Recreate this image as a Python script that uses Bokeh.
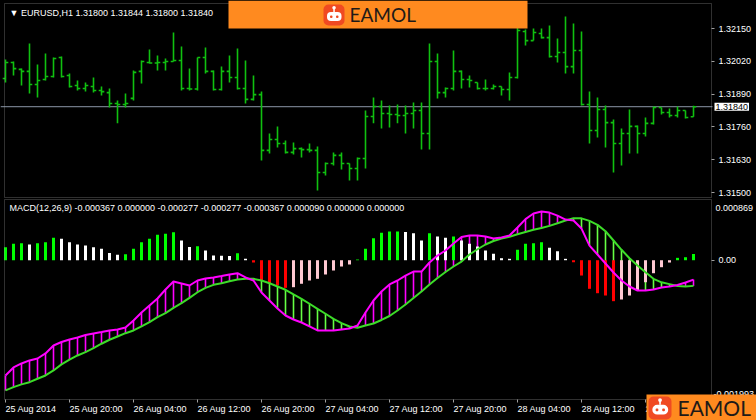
from bokeh.plotting import figure
from bokeh.models import (ColumnDataSource, Range1d, LinearAxis, FixedTicker,
                          PrintfTickFormatter, Label, BoxAnnotation, Span)
from bokeh.layouts import column
from bokeh.embed import file_html
from bokeh.resources import INLINE

# ---------------- data ----------------
time_ticks = [0, 8, 16, 24, 32, 40, 48, 56, 64, 72, 80]
time_labels = ["25 Aug 2014", "25 Aug 20:00", "26 Aug 04:00", "26 Aug 12:00",
               "26 Aug 20:00", "27 Aug 04:00", "27 Aug 12:00", "27 Aug 20:00",
               "28 Aug 04:00", "28 Aug 12:00", "28 Aug 20:00"]
price_ticks = [1.31500, 1.31630, 1.31760, 1.31890, 1.32020, 1.32150]
last_price = 1.31840
macd_top = 0.000869
macd_bottom = -0.001993

opens = [1.31952, 1.32015, 1.31988, 1.31980, 1.31928, 1.31948, 1.31960, 1.32035, 1.31964, 1.31924,
         1.31912, 1.31920, 1.31904, 1.31896, 1.31853, 1.31849, 1.31873, 1.31980, 1.32015, 1.32013,
         1.32015, 1.32019, 1.32023, 1.31912, 1.31910, 1.32035, 1.31980, 1.31908, 1.31980, 1.31956,
         1.31912, 1.31869, 1.31888, 1.31667, 1.31710, 1.31694, 1.31659, 1.31674, 1.31670, 1.31667,
         1.31579, 1.31615, 1.31647, 1.31615, 1.31595, 1.31635, 1.31801, 1.31841, 1.31813, 1.31809,
         1.31805, 1.31813, 1.31825, 1.31734, 1.32019, 1.31896, 1.31912, 1.31980, 1.31948, 1.31936,
         1.31912, 1.31912, 1.31920, 1.31908, 1.31956, 1.32138, 1.32102, 1.32130, 1.32114, 1.32039,
         1.32055, 1.31999, 1.32063, 1.31849, 1.31746, 1.31829, 1.31777, 1.31694, 1.31734, 1.31762,
         1.31734, 1.31774, 1.31837, 1.31817, 1.31805, 1.31825, 1.31800]
highs = [1.32027, 1.32019, 1.31991, 1.32091, 1.32007, 1.32051, 1.32035, 1.32039, 1.31972, 1.31944,
         1.31936, 1.31956, 1.31920, 1.31912, 1.31865, 1.31892, 1.31984, 1.32023, 1.32067, 1.32043,
         1.32031, 1.32134, 1.32079, 1.31991, 1.32035, 1.32075, 1.31984, 1.31999, 1.32043, 1.32071,
         1.32023, 1.31964, 1.31900, 1.31734, 1.31762, 1.31706, 1.31698, 1.31678, 1.31694, 1.31682,
         1.31619, 1.31659, 1.31659, 1.31615, 1.31639, 1.31825, 1.31877, 1.31865, 1.31845, 1.31849,
         1.31845, 1.31857, 1.31857, 1.32091, 1.32051, 1.31916, 1.32063, 1.31984, 1.31964, 1.31936,
         1.31948, 1.31928, 1.31920, 1.31976, 1.32154, 1.32146, 1.32150, 1.32150, 1.32162, 1.32110,
         1.32198, 1.32170, 1.32138, 1.31900, 1.31877, 1.31845, 1.31789, 1.31754, 1.31829, 1.31766,
         1.31797, 1.31841, 1.31837, 1.31833, 1.31841, 1.31825, 1.31844]
lows = [1.31936, 1.31964, 1.31924, 1.31892, 1.31877, 1.31944, 1.31956, 1.31956, 1.31916, 1.31904,
        1.31900, 1.31896, 1.31884, 1.31837, 1.31774, 1.31837, 1.31865, 1.31932, 1.32011, 1.31984,
        1.31984, 1.32019, 1.31904, 1.31904, 1.31904, 1.31972, 1.31904, 1.31904, 1.31936, 1.31908,
        1.31853, 1.31865, 1.31627, 1.31655, 1.31678, 1.31655, 1.31651, 1.31639, 1.31659, 1.31508,
        1.31567, 1.31607, 1.31591, 1.31548, 1.31548, 1.31595, 1.31774, 1.31754, 1.31758, 1.31774,
        1.31734, 1.31754, 1.31670, 1.31670, 1.31873, 1.31877, 1.31904, 1.31912, 1.31916, 1.31908,
        1.31904, 1.31908, 1.31884, 1.31865, 1.31952, 1.32083, 1.32102, 1.32110, 1.32035, 1.32015,
        1.31972, 1.31972, 1.31845, 1.31694, 1.31718, 1.31678, 1.31579, 1.31607, 1.31655, 1.31655,
        1.31722, 1.31770, 1.31809, 1.31797, 1.31797, 1.31793, 1.31800]
closes = [1.32015, 1.31991, 1.31980, 1.31928, 1.31944, 1.31960, 1.32031, 1.31960, 1.31920, 1.31912,
          1.31924, 1.31904, 1.31900, 1.31853, 1.31849, 1.31853, 1.31976, 1.32019, 1.32013, 1.32015,
          1.32019, 1.32023, 1.31912, 1.31910, 1.32035, 1.31980, 1.31908, 1.31980, 1.31956, 1.31912,
          1.31869, 1.31888, 1.31667, 1.31710, 1.31694, 1.31659, 1.31674, 1.31670, 1.31667, 1.31579,
          1.31615, 1.31647, 1.31615, 1.31595, 1.31635, 1.31801, 1.31841, 1.31813, 1.31809, 1.31805,
          1.31813, 1.31825, 1.31734, 1.32019, 1.31896, 1.31912, 1.31980, 1.31948, 1.31944, 1.31912,
          1.31912, 1.31920, 1.31908, 1.31956, 1.32142, 1.32102, 1.32134, 1.32114, 1.32039, 1.32055,
          1.31999, 1.32063, 1.31849, 1.31746, 1.31829, 1.31777, 1.31694, 1.31734, 1.31762, 1.31734,
          1.31774, 1.31837, 1.31817, 1.31805, 1.31825, 1.31797, 1.31840]

macd_main = [-0.001649, -0.001534, -0.001477, -0.001434, -0.001406, -0.001334, -0.001220, -0.001170, -0.001134, -0.001105,
             -0.001070, -0.001048, -0.001027, -0.001005, -0.000991, -0.000962, -0.000862, -0.000748, -0.000648, -0.000548,
             -0.000419, -0.000305, -0.000333, -0.000362, -0.000290, -0.000262, -0.000247, -0.000226, -0.000204, -0.000186,
             -0.000247, -0.000290, -0.000462, -0.000576, -0.000691, -0.000791, -0.000848, -0.000891, -0.000948, -0.001005,
             -0.001005, -0.001005, -0.000991, -0.000977, -0.000934, -0.000748, -0.000576, -0.000448, -0.000347, -0.000290,
             -0.000219, -0.000162, -0.000162, -0.000033, 0.000067, 0.000139, 0.000239, 0.000332, 0.000353, 0.000353,
             0.000339, 0.000310, 0.000325, 0.000353, 0.000468, 0.000588, 0.000668, 0.000696, 0.000682, 0.000639,
             0.000582, 0.000568, 0.000453, 0.000210, 0.000082, -0.000047, -0.000176, -0.000290, -0.000376, -0.000433,
             -0.000433, -0.000419, -0.000390, -0.000376, -0.000354, -0.000319, -0.000277]
macd_signal = [-0.001863, -0.001816, -0.001777, -0.001745, -0.001696, -0.001649, -0.001577, -0.001491, -0.001424, -0.001363,
               -0.001316, -0.001258, -0.001195, -0.001138, -0.001091, -0.001044, -0.001005, -0.000948, -0.000887, -0.000815,
               -0.000758, -0.000681, -0.000615, -0.000538, -0.000458, -0.000395, -0.000352, -0.000329, -0.000300, -0.000276,
               -0.000266, -0.000266, -0.000290, -0.000329, -0.000376, -0.000423, -0.000490, -0.000552, -0.000623, -0.000695,
               -0.000766, -0.000838, -0.000901, -0.000948, -0.000967, -0.000934, -0.000905, -0.000855, -0.000798, -0.000719,
               -0.000633, -0.000541, -0.000448, -0.000347, -0.000255, -0.000169, -0.000090, -0.000019, 0.000082, 0.000157,
               0.000225, 0.000275, 0.000310, 0.000336, 0.000372, 0.000405, 0.000435, 0.000460, 0.000492, 0.000529,
               0.000568, 0.000601, 0.000599, 0.000563, 0.000506, 0.000415, 0.000282, 0.000149, 0.000029, -0.000076,
               -0.000172, -0.000266, -0.000316, -0.000342, -0.000368, -0.000376, -0.000367]
macd_hist = [0.000186, 0.000235, 0.000243, 0.000225, 0.000243, 0.000257, 0.000320, 0.000306, 0.000257, 0.000225,
             0.000210, 0.000186, 0.000163, 0.000105, 0.000080, 0.000084, 0.000163, 0.000257, 0.000306, 0.000363,
             0.000378, 0.000400, 0.000282, 0.000190, 0.000200, 0.000139, 0.000067, 0.000065, 0.000060, 0.000100,
             0.000020, -0.000033, -0.000290, -0.000337, -0.000362, -0.000395, -0.000386, -0.000337, -0.000290, -0.000266,
             -0.000204, -0.000147, -0.000090, -0.000061, 0.000010, 0.000163, 0.000315, 0.000392, 0.000410, 0.000412,
             0.000405, 0.000386, 0.000282, 0.000386, 0.000339, 0.000320, 0.000339, 0.000282, 0.000235, 0.000196,
             0.000139, 0.000092, 0.000029, 0.000020, 0.000149, 0.000235, 0.000243, 0.000257, 0.000177, 0.000129,
             0.000020, -0.000029, -0.000219, -0.000409, -0.000472, -0.000505, -0.000586, -0.000562, -0.000505, -0.000433,
             -0.000315, -0.000186, -0.000100, -0.000033, 0.000034, 0.000043, 0.000090]

# ---------------- style ----------------
FONT = "Liberation Sans"
BG = "#000000"
BORDER = "#A0A0A0"
BAR = "#10C010"
MAGENTA = "#FF00FF"
SIGNAL = "#3CDC28"
HATCH_GREEN = "#66FF44"
H_GREEN, H_WHITE, H_RED, H_PINK = "#00FF00", "#FFFFFF", "#FF0000", "#FFC8D2"
ORANGE = "#FF8A1F"
ICON = "#F04A22"
TEXT = "#FFFFFF"

W = 756
H1, H2 = 198, 222          # canvas heights of the two panes
FL, FR = 4, 711            # chart frame left / right edge (px)
PX_PER_BAR = 8
FIRST_BAR_PX = 5
P_TOP, P_BOT = 3, 197      # price box (page px)
M_TOP, M_BOT = 199, 399    # macd box (page px)

n = len(closes)
idx = list(range(n))

# x: bar index, one bar every 8 px, first bar at px 5
x_range = Range1d((0 - FIRST_BAR_PX) / PX_PER_BAR, (W - FIRST_BAR_PX) / PX_PER_BAR)
x_edge = (FR - FIRST_BAR_PX) / PX_PER_BAR
# price scale: 1.32150 at px 28, 1.31500 at px 192
p_per_px = (price_ticks[-1] - price_ticks[0]) / (192 - 28)
p_range = Range1d(price_ticks[-1] - (H1 - 28) * p_per_px, price_ticks[-1] + 28 * p_per_px)
# macd scale: top value at px 199, bottom value at px 399
m_per_px = (macd_top - macd_bottom) / (M_BOT - M_TOP)
m_range = Range1d(macd_bottom - (H1 + H2 - M_BOT) * m_per_px, macd_top + (M_TOP - H1) * m_per_px)


def make_fig(h, yr):
    p = figure(width=W, height=h, x_range=x_range, y_range=yr,
               output_backend="svg", toolbar_location=None,
               x_axis_location=None, y_axis_location=None, min_border=0)
    p.background_fill_color = BG
    p.border_fill_color = BG
    p.outline_line_color = None
    p.xgrid.visible = False
    p.ygrid.visible = False
    return p


def style_axis(ax, standoff=4):
    ax.axis_line_color = None
    ax.major_tick_line_color = BORDER
    ax.major_tick_out = 3
    ax.major_tick_in = 0
    ax.minor_tick_line_color = None
    ax.major_label_text_font = FONT
    ax.major_label_text_font_size = "9px"
    ax.major_label_text_color = TEXT
    ax.major_label_standoff = standoff


def box(p, h, x0, x1, y0, y1, radius=0, **kw):
    """decorative box in page pixel coordinates (y0/y1 relative to this canvas)"""
    p.add_layout(BoxAnnotation(left=x0, right=x1, top=h - y0, bottom=h - y1,
                               left_units="screen", right_units="screen",
                               top_units="screen", bottom_units="screen",
                               border_radius=int(round(radius)), **kw))


def logo(p, h, x0, x1, y0, y1, ix, iy, isz, tx, tsize):
    box(p, h, x0, x1, y0, y1, fill_color=ORANGE, fill_alpha=1, line_color=None)
    s = isz / 21.0
    box(p, h, ix, ix + 21 * s, iy, iy + 21 * s, radius=5 * s, fill_color=ICON, fill_alpha=1, line_color=None)
    box(p, h, ix + 3.5 * s, ix + 18 * s, iy + 7.5 * s, iy + 16.5 * s, radius=4.5 * s,
        fill_color="#FFFFFF", fill_alpha=1, line_color=None)
    for ex in (6.5, 12.5):
        box(p, h, ix + ex * s, ix + (ex + 2.5) * s, iy + 11 * s, iy + 13.5 * s, radius=1,
            fill_color=ICON, fill_alpha=1, line_color=None)
    box(p, h, ix + 9.8 * s, ix + 11.3 * s, iy + 4 * s, iy + 7.5 * s, fill_color="#FFFFFF", fill_alpha=1, line_color=None)
    box(p, h, ix + 8.8 * s, ix + 12.3 * s, iy + 1.5 * s, iy + 5 * s, radius=2 * s,
        fill_color="#FFFFFF", fill_alpha=1, line_color=None)
    p.add_layout(Label(x=tx, y=h - (y0 + y1) / 2.0, x_units="screen", y_units="screen", text="EAMOL",
                       text_font="Lato", text_font_size=tsize, text_color="#1E1A18", text_baseline="middle"))


# ---------------- price panel ----------------
p1 = make_fig(H1, p_range)
pax = LinearAxis(ticker=FixedTicker(ticks=price_ticks), formatter=PrintfTickFormatter(format="%.5f"),
                 fixed_location=x_edge)
style_axis(pax)
p1.add_layout(pax, "right")

p1.add_layout(Span(location=last_price, dimension="width", line_color="#8C96A8",
                   line_width=1, level="underlay"))

TICK = 0.35
psrc = ColumnDataSource(dict(x=idx, xl=[i - TICK for i in idx], xr=[i + TICK for i in idx],
                             o=opens, h=highs, l=lows, c=closes))
p1.segment("x", "l", "x", "h", source=psrc, line_color=BAR, line_width=1.6)
p1.segment("xl", "o", "x", "o", source=psrc, line_color=BAR, line_width=1.6)
p1.segment("x", "c", "xr", "c", source=psrc, line_color=BAR, line_width=1.6)

# frame border
box(p1, H1, FL, FR, P_TOP, P_BOT, fill_alpha=0, line_color=BORDER, line_width=1)
# black strip right of the frame so the price line stops at the border
box(p1, H1, FR + 1, W, 0, H1, fill_color=BG, fill_alpha=1, line_color=None, level="underlay")

p1.add_layout(Label(x=9, y=H1 - 12.5, x_units="screen", y_units="screen",
                    text="\u25BC EURUSD,H1  1.31800 1.31844 1.31800 1.31840",
                    text_font=FONT, text_font_size="9px", text_color=TEXT, text_baseline="middle"))
p1.add_layout(Label(x=714, y=last_price, x_units="screen", y_units="data",
                    text="1.31840", text_font=FONT, text_font_size="9px", text_color="#000000",
                    text_baseline="middle", background_fill_color="#FFFFFF", padding=1))

logo(p1, H1, 228, 527, 0, 28, 323, 4, 21, 349, "19px")

# ---------------- MACD panel ----------------
p2 = make_fig(H2, m_range)
may = LinearAxis(ticker=FixedTicker(ticks=[0.0]), formatter=PrintfTickFormatter(format="%.2f"),
                 fixed_location=x_edge)
style_axis(may)
p2.add_layout(may, "right")
tax = LinearAxis(ticker=FixedTicker(ticks=time_ticks),
                 major_label_overrides={t: lab for t, lab in zip(time_ticks, time_labels)},
                 fixed_location=macd_bottom)
style_axis(tax, standoff=6)
tax.major_label_orientation = -0.0001
p2.add_layout(tax, "below")

hist_colors = []
for k, v in enumerate(macd_hist):
    prev = macd_hist[k - 1] if k else v
    if v >= 0:
        hist_colors.append(H_GREEN if v >= prev else H_WHITE)
    else:
        hist_colors.append(H_RED if v < prev else H_PINK)
hatch_colors = [MAGENTA if m >= s else HATCH_GREEN for m, s in zip(macd_main, macd_signal)]

msrc = ColumnDataSource(dict(x=idx, m=macd_main, s=macd_signal, h=macd_hist,
                             hc=hist_colors, kc=hatch_colors))
p2.segment("x", "m", "x", "s", source=msrc, line_color="kc", line_width=1.6)
p2.vbar(x="x", top="h", bottom=0, width=0.375, source=msrc, fill_color="hc", line_color=None)
p2.line("x", "s", source=msrc, line_color=SIGNAL, line_width=2)
p2.line("x", "m", source=msrc, line_color=MAGENTA, line_width=2)

OFF = H1  # page y of this canvas top
box(p2, H2, FL, FR, M_TOP - OFF, M_BOT - OFF, fill_alpha=0, line_color=BORDER, line_width=1)

p2.add_layout(Label(x=9, y=H2 - (207.5 - OFF), x_units="screen", y_units="screen",
                    text="MACD(12,26,9) -0.000367 0.000000 -0.000277 -0.000277 -0.000367 0.000090 0.000000 0.000000",
                    text_font=FONT, text_font_size="9px", text_color=TEXT, text_baseline="middle"))
p2.add_layout(Label(x=715, y=H2 - (207 - OFF), x_units="screen", y_units="screen", text="0.000869",
                    text_font=FONT, text_font_size="9px", text_color=TEXT, text_baseline="middle"))
p2.add_layout(Label(x=713, y=H2 - (393 - OFF), x_units="screen", y_units="screen", text="-0.001993",
                    text_font=FONT, text_font_size="9px", text_color=TEXT, text_baseline="middle"))

logo(p2, H2, 646, 756, 394 - OFF, 420 - OFF, 648, 396 - OFF, 23, 677, "21px")

layout = column(p1, p2, spacing=0)

html = file_html(layout, INLINE, title="EURUSD,H1 MACD")
html = html.replace("</head>",
                    "<style>html,body{margin:0;padding:0;background:#000;overflow:hidden;}</style></head>", 1)
open("out.html", "w").write(html)
